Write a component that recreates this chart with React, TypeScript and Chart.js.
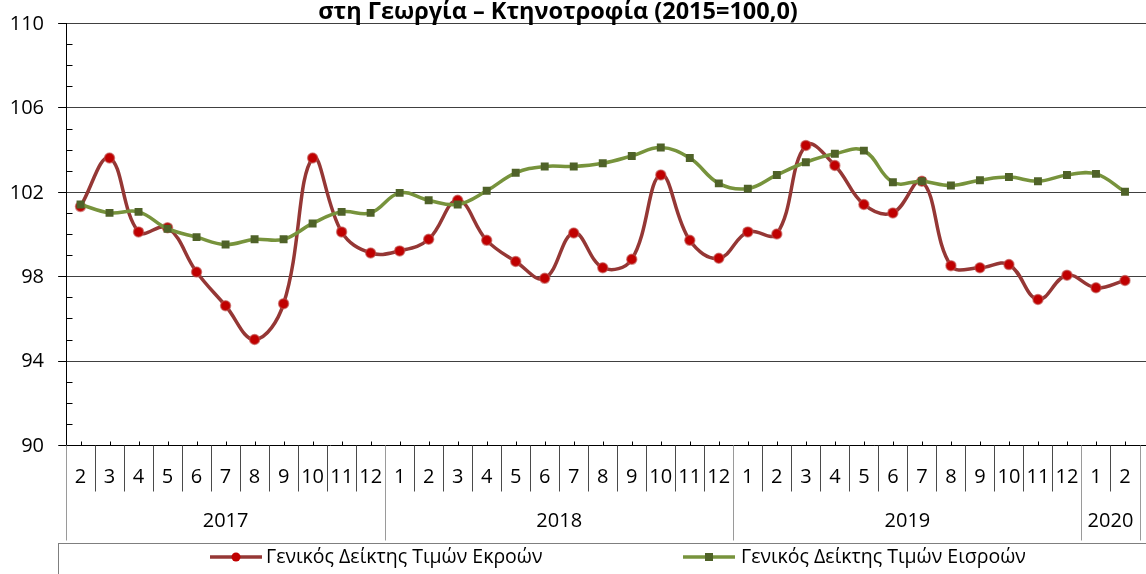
import { useEffect, useRef } from "react";
import { Chart, registerables } from "chart.js";

Chart.register(...registerables);

const titleText = "στη Γεωργία – Κτηνοτροφία (2015=100,0)";

const monthLabels = [
  "2", "3", "4", "5", "6", "7", "8", "9", "10", "11", "12",
  "1", "2", "3", "4", "5", "6", "7", "8", "9", "10", "11", "12",
  "1", "2", "3", "4", "5", "6", "7", "8", "9", "10", "11", "12",
  "1", "2",
];

const yearLabels = ["2017", "2018", "2019", "2020"];
const yearSpans = [11, 12, 12, 2];

const yTickLabels = [90, 94, 98, 102, 106, 110];

const outputName = "Γενικός Δείκτης Τιμών Εκροών";
const inputName = "Γενικός Δείκτης Τιμών Εισροών";

const outputIndex = [
  101.3, 103.6, 100.1, 100.3, 98.2, 96.6, 95.0, 96.7, 103.6, 100.1, 99.1,
  99.2, 99.75, 101.6, 99.7, 98.7, 97.9, 100.05, 98.4, 98.8, 102.8, 99.7, 98.85,
  100.1, 100.0, 104.2, 103.25, 101.4, 101.0, 102.5, 98.5, 98.4, 98.55, 96.9, 98.05,
  97.45, 97.8,
];

const inputIndex = [
  101.4, 101.0, 101.05, 100.25, 99.85, 99.5, 99.75, 99.75, 100.5, 101.05, 101.0,
  101.95, 101.6, 101.4, 102.05, 102.9, 103.2, 103.2, 103.35, 103.7, 104.1, 103.6, 102.4,
  102.15, 102.8, 103.4, 103.8, 103.95, 102.45, 102.5, 102.3, 102.55, 102.7, 102.5, 102.8,
  102.85, 102.0,
];

const RED_LINE = "#953735";
const RED_POINT = "#C00000";
const GREEN_LINE = "#77933C";
const GREEN_POINT = "#4F6228";
const FONT = "'Open Sans', 'DejaVu Sans', sans-serif";

const decorPlugin = {
  id: "decor",
  beforeDatasetsDraw(chart: any) {
    const ctx = chart.ctx;
    const { left } = chart.chartArea;
    const y = chart.scales.y;
    const W = chart.width;
    ctx.save();
    ctx.lineWidth = 1;
    ctx.strokeStyle = "#404040";
    for (const v of yTickLabels) {
      if (v === 90) continue;
      const py = Math.round(y.getPixelForValue(v)) + 0.5;
      ctx.beginPath();
      ctx.moveTo(left - 8, py);
      ctx.lineTo(W, py);
      ctx.stroke();
    }
    ctx.restore();
  },
  afterDraw(chart: any) {
    const ctx = chart.ctx;
    const { left, right, top, bottom } = chart.chartArea;
    const x = chart.scales.x;
    const y = chart.scales.y;
    const W = chart.width;
    const H = chart.height;
    const axX = Math.round(left) + 0.5;
    const axY = Math.round(bottom) + 0.5;
    ctx.save();
    ctx.lineWidth = 1;
    ctx.strokeStyle = "#000";
    ctx.beginPath();
    ctx.moveTo(axX, Math.round(top));
    ctx.lineTo(axX, axY);
    ctx.stroke();
    for (let v = 90; v <= 110; v++) {
      const py = Math.round(y.getPixelForValue(v)) + 0.5;
      ctx.beginPath();
      if (v % 4 === 2 || v === 90) {
        ctx.moveTo(axX - 8, py);
        ctx.lineTo(axX, py);
      } else {
        ctx.moveTo(axX, py);
        ctx.lineTo(axX + 6, py);
      }
      ctx.stroke();
    }
    ctx.beginPath();
    ctx.moveTo(axX - 8, axY);
    ctx.lineTo(W, axY);
    ctx.stroke();
    const n = monthLabels.length;
    const step = (right - left) / n;
    for (let i = 0; i < n; i++) {
      const px = Math.round(x.getPixelForValue(i)) + 0.5;
      ctx.beginPath();
      ctx.moveTo(px, axY - 4);
      ctx.lineTo(px, axY);
      ctx.stroke();
    }
    ctx.strokeStyle = "#4a4a4a";
    for (let i = 1; i < n; i++) {
      const px = Math.round(x.getPixelForValue(i) - step / 2) + 0.5;
      ctx.beginPath();
      ctx.moveTo(px, axY);
      ctx.lineTo(px, axY + 46);
      ctx.stroke();
    }
    ctx.strokeStyle = "#9a9a9a";
    let acc = 0;
    const bounds = [0];
    for (const s of yearSpans) {
      acc += s;
      bounds.push(acc);
    }
    for (const b of bounds) {
      const px = Math.round(left + b * step) + 0.5;
      ctx.beginPath();
      ctx.moveTo(px, axY);
      ctx.lineTo(px, axY + 95);
      ctx.stroke();
    }
    ctx.fillStyle = "#000";
    ctx.font = `20px ${FONT}`;
    ctx.textAlign = "center";
    ctx.textBaseline = "middle";
    for (let i = 0; i < n; i++) {
      ctx.fillText(monthLabels[i], x.getPixelForValue(i), axY + 32);
    }
    for (let k = 0; k < yearLabels.length; k++) {
      const cx = left + ((bounds[k] + bounds[k + 1]) / 2) * step;
      ctx.fillText(yearLabels[k], cx, axY + 76);
    }
    ctx.textAlign = "right";
    for (const v of yTickLabels) {
      ctx.fillText(String(v), 44, y.getPixelForValue(v) + 1);
    }
    ctx.font = `bold 23.5px ${FONT}`;
    ctx.textAlign = "center";
    ctx.textBaseline = "alphabetic";
    ctx.fillText(titleText, 558, 19);
    ctx.strokeStyle = "#7f7f7f";
    ctx.strokeRect(58.5, 543.5, W, H);
    const ly = 557;
    ctx.font = `19.5px ${FONT}`;
    ctx.textAlign = "left";
    ctx.textBaseline = "middle";
    ctx.lineWidth = 3.5;
    ctx.strokeStyle = RED_LINE;
    ctx.beginPath();
    ctx.moveTo(210, ly);
    ctx.lineTo(262, ly);
    ctx.stroke();
    ctx.fillStyle = RED_POINT;
    ctx.beginPath();
    ctx.arc(236, ly, 4.5, 0, Math.PI * 2);
    ctx.fill();
    ctx.fillStyle = "#000";
    ctx.fillText(outputName, 266, ly);
    ctx.strokeStyle = GREEN_LINE;
    ctx.beginPath();
    ctx.moveTo(683, ly);
    ctx.lineTo(735, ly);
    ctx.stroke();
    ctx.fillStyle = GREEN_POINT;
    ctx.fillRect(705, ly - 4, 8, 8);
    ctx.fillStyle = "#000";
    ctx.fillText(inputName, 741, ly);
    ctx.restore();
  },
};

export default function App() {
  const ref = useRef<HTMLCanvasElement | null>(null);
  useEffect(() => {
    if (!ref.current) return;
    const chart = new Chart(ref.current, {
      type: "line",
      data: {
        labels: monthLabels.map((m, i) => `${i}-${m}`),
        datasets: [
          {
            label: inputName,
            data: inputIndex,
            borderColor: GREEN_LINE,
            backgroundColor: GREEN_POINT,
            borderWidth: 3.5,
            tension: 0.4,
            pointStyle: "rect",
            pointRadius: 5.6,
            pointBackgroundColor: GREEN_POINT,
            pointBorderColor: GREEN_POINT,
            pointBorderWidth: 0,
            order: 0,
          },
          {
            label: outputName,
            data: outputIndex,
            borderColor: RED_LINE,
            backgroundColor: RED_POINT,
            borderWidth: 3.5,
            tension: 0.4,
            pointStyle: "circle",
            pointRadius: 5,
            pointBackgroundColor: RED_POINT,
            pointBorderColor: "rgba(192,80,77,0.6)",
            pointBorderWidth: 1.5,
            order: 1,
          },
        ],
      },
      options: {
        animation: false,
        responsive: false,
        maintainAspectRatio: false,
        devicePixelRatio: 1,
        layout: { padding: { left: 66, right: 2, top: 23, bottom: 129 } },
        plugins: { legend: { display: false }, tooltip: { enabled: false }, title: { display: false } },
        scales: {
          x: { type: "category", display: false, offset: true },
          y: { type: "linear", display: false, min: 90, max: 110 },
        },
      },
      plugins: [decorPlugin],
    });
    return () => chart.destroy();
  }, []);
  return (
    <div style={{ position: "fixed", left: 0, top: 0, width: 1146, height: 574, background: "#fff" }}>
      <canvas ref={ref} width={1146} height={574} style={{ width: 1146, height: 574, display: "block" }} />
    </div>
  );
}
